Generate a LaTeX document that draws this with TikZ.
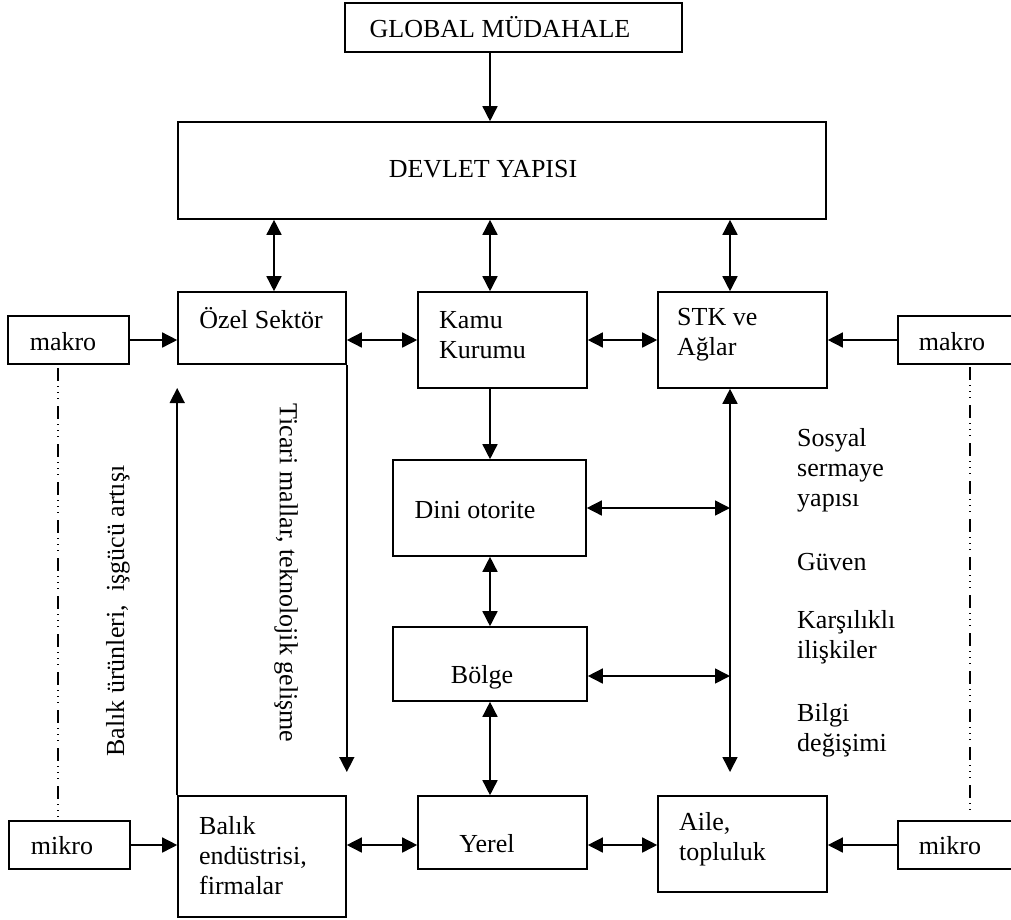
\documentclass[tikz,border=0pt]{standalone}
\usepackage{fontspec}
\setmainfont{Liberation Serif}
\usetikzlibrary{arrows.meta}
\begin{document}
\begin{tikzpicture}[x=1pt,y=-1pt,
  every node/.style={font=\fontsize{26}{30}\selectfont, inner sep=0pt},
  box/.style={draw, line width=1.6pt, rectangle, inner sep=0pt},
  openbox/.style={rectangle, inner sep=0pt},
  edge3/.style={line width=1.6pt},
  lbl/.style={align=left, anchor=west},
  arr/.style={line width=1.5pt, -{Triangle[length=15pt,width=15pt]}},
  darr/.style={line width=1.5pt, {Triangle[length=15pt,width=15pt]}-{Triangle[length=15pt,width=15pt]}},
  dashdotline/.style={line width=1.2pt, dash pattern=on 13pt off 5pt on 1pt off 5pt on 1pt off 5pt on 1pt off 7pt}
]
\useasboundingbox (0,0) rectangle (1011,919);

% boxes
\node[box, minimum width=337pt, minimum height=49pt] (global) at (513.5,27.5) {};
\node[box, minimum width=648pt, minimum height=97pt] (devlet) at (502,170.5) {};
\node[box, minimum width=168pt, minimum height=72pt] (ozel) at (262,328) {};
\node[box, minimum width=169pt, minimum height=96pt] (kamu) at (502.5,340) {};
\node[box, minimum width=169pt, minimum height=96pt] (stk) at (742.5,340) {};
\node[box, minimum width=121pt, minimum height=48pt] (makroL) at (68.5,340) {};
\node[openbox, minimum width=113pt, minimum height=48pt] (makroR) at (954.5,340) {};
\node[box, minimum width=193pt, minimum height=96pt] (dini) at (489.5,508) {};
\node[box, minimum width=194pt, minimum height=74pt] (bolge) at (490,664) {};
\node[box, minimum width=169pt, minimum height=73pt] (yerel) at (502.5,832.5) {};
\node[box, minimum width=168pt, minimum height=121pt] (balik) at (262,856.5) {};
\node[box, minimum width=169pt, minimum height=96pt] (aile) at (742.5,844) {};
\node[box, minimum width=121pt, minimum height=48pt] (mikroL) at (69.5,845) {};
\node[openbox, minimum width=113pt, minimum height=48pt] (mikroR) at (954.5,845) {};
\draw[edge3] (makroR.north east) -- (makroR.north west) -- (makroR.south west) -- (makroR.south east);
\draw[edge3] (mikroR.north east) -- (mikroR.north west) -- (mikroR.south west) -- (mikroR.south east);

% texts
\node (tglobal) at (500,27) {GLOBAL MÜDAHALE};
\node (tdevlet) at (483,169) {DEVLET YAPISI};
\node (tozel) at (261,318) {Özel Sektör};
\node[lbl] (tkamu) at (439,335) {Kamu\\Kurumu};
\node[lbl] (tstk) at (677,335) {STK ve\\Ağlar};
\node (tmakroL) at (63,342) {makro};
\node (tmakroR) at (952,342) {makro};
\node (tdini) at (475,510) {Dini otorite};
\node (tbolge) at (482,677) {Bölge};
\node (tyerel) at (487,844) {Yerel};
\node[lbl] (tbalik) at (199,856) {Balık\\endüstrisi,\\firmalar};
\node[lbl] (taile) at (679,839) {Aile,\\topluluk};
\node (tmikroL) at (62,846) {mikro};
\node (tmikroR) at (950,846) {mikro};
\node[lbl] (tsosyal) at (797,470) {Sosyal\\sermaye\\yapısı};
\node[lbl] (tguven) at (797,562) {Güven};
\node[lbl] (tkars) at (797,637) {Karşılıklı\\ilişkiler};
\node[lbl] (tbilgi) at (797,730) {Bilgi\\değişimi};
\node[rotate=90] (tbalikur) at (118,611) {Balık ürünleri,\ \ işgücü artışı};
\node[rotate=-90] (tticari) at (286,573) {Ticari mallar, teknolojik gelişme};

% helper coordinates
\coordinate (xa) at (274,0);
\coordinate (xb) at (490,0);
\coordinate (xc) at (730,0);
\coordinate (ybol) at (0,676);
\coordinate (ytip) at (0,772);
\coordinate (yup) at (0,388);
\coordinate (dlt) at (58,368);
\coordinate (dlb) at (58,818);
\coordinate (drt) at (970,367);
\coordinate (drb) at (970,814);

% connectors
\draw[arr] (global.south -| xb) -- (devlet.north -| xb);
\draw[darr] (devlet.south -| xa) -- (ozel.north -| xa);
\draw[darr] (devlet.south -| xb) -- (kamu.north -| xb);
\draw[darr] (devlet.south -| xc) -- (stk.north -| xc);
\draw[arr] (makroL.east) -- (makroL.east -| ozel.west);
\draw[darr] (kamu.west -| ozel.east) -- (kamu.west);
\draw[darr] (kamu.east) -- (stk.west);
\draw[arr] (makroR.west) -- (makroR.west -| stk.east);
\draw[arr] (kamu.south -| xb) -- (dini.north -| xb);
\draw[darr] (stk.south -| xc) -- (ytip -| xc);
\draw[darr] (dini.east) -- (dini.east -| xc);
\draw[darr] (ybol -| bolge.east) -- (ybol -| xc);
\draw[darr] (dini.south -| xb) -- (bolge.north -| xb);
\draw[darr] (bolge.south -| xb) -- (yerel.north -| xb);
\draw[arr] (ozel.south east) -- (ytip -| ozel.south east);
\draw[arr] (balik.north west) -- (yup -| balik.north west);
\draw[arr] (mikroL.east) -- (mikroL.east -| balik.west);
\draw[darr] (mikroL.east -| balik.east) -- (mikroL.east -| yerel.west);
\draw[darr] (mikroL.east -| yerel.east) -- (mikroL.east -| aile.west);
\draw[arr] (mikroR.west) -- (mikroR.west -| aile.east);
\draw[dashdotline] (dlt) -- (dlb);
\draw[dashdotline] (drt) -- (drb);
\end{tikzpicture}
\end{document}
